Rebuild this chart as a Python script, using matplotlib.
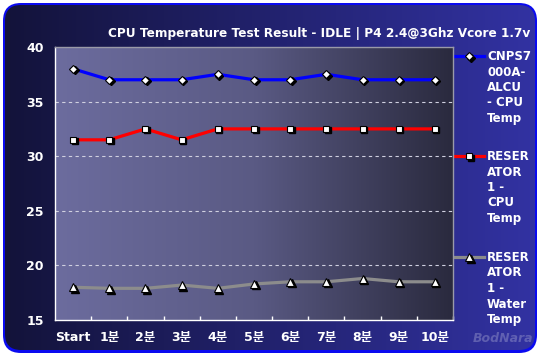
import matplotlib

matplotlib.use("Agg")

import matplotlib.pyplot as plt
import numpy as np
from matplotlib.colors import LinearSegmentedColormap
from matplotlib.patches import FancyBboxPatch
from matplotlib.lines import Line2D
from matplotlib.transforms import offset_copy


categories = ["Start", "1분", "2분", "3분", "4분", "5분", "6분", "7분", "8분", "9분", "10분"]
cnps_cpu = [38, 37, 37, 37, 37.5, 37, 37, 37.5, 37, 37, 37]
reserator_cpu = [31.5, 31.5, 32.5, 31.5, 32.5, 32.5, 32.5, 32.5, 32.5, 32.5, 32.5]
reserator_water = [18, 17.9, 17.9, 18.2, 17.9, 18.3, 18.5, 18.5, 18.8, 18.5, 18.5]
y_ticks = [15, 20, 25, 30, 35, 40]

legend_labels = [
    "CNPS7\n000A-\nALCU\n- CPU\nTemp",
    "RESER\nATOR\n1 -\nCPU\nTemp",
    "RESER\nATOR\n1 -\nWater\nTemp",
]
title = "CPU Temperature Test Result - IDLE | P4 2.4@3Ghz Vcore 1.7v"

plt.rcParams["font.family"] = ["DejaVu Sans", "Noto Sans CJK KR"]
plt.rcParams["font.weight"] = "bold"

W, H = 541, 356
fig = plt.figure(figsize=(W / 100, H / 100), dpi=100)
fig.patch.set_facecolor("white")

# background frame, drawn in pixel coordinates
bg = fig.add_axes([0, 0, 1, 1])
bg.set_xlim(0, W)
bg.set_ylim(H, 0)
bg.axis("off")

shadow = FancyBboxPatch((3, 3), 534, 350, boxstyle="round,pad=0,rounding_size=18",
                        facecolor="#0a0af0", edgecolor="none", zorder=0)
bg.add_patch(shadow)
outer_cmap = LinearSegmentedColormap.from_list("outer", ["#13133a", "#22226e", "#3232a2"])
grad = np.linspace(0, 1, 256).reshape(1, -1)
img = bg.imshow(grad, cmap=outer_cmap, extent=(5, 535, 350, 5), aspect="auto", zorder=1)
clip = FancyBboxPatch((5, 5), 530, 345, boxstyle="round,pad=0,rounding_size=16",
                      facecolor="none", edgecolor="none", transform=bg.transData)
img.set_clip_path(clip)

# main plot
ax = fig.add_axes([55 / W, 1 - 320 / H, 398 / W, 273 / H])
plot_cmap = LinearSegmentedColormap.from_list("plot", ["#6c6c9e", "#5a5a84", "#2a2a3e"])
ax.imshow(grad, cmap=plot_cmap, extent=(-0.5, 10.5, 15, 40), aspect="auto", zorder=0)

x = np.arange(len(categories))
shadow_tr = offset_copy(ax.transData, fig=fig, x=1.5, y=-1.5, units="dots")
series = [
    (cnps_cpu, "#0000ff", "D", 4.2),
    (reserator_cpu, "#ff0000", "s", 5),
    (reserator_water, "#8c8c8c", "^", 5.5),
]
for values, color, marker, ms in series:
    ax.plot(x, values, color=color, linewidth=2.3, zorder=2)
    ax.plot(x, values, linestyle="none", marker=marker, markersize=ms,
            color="black", transform=shadow_tr, zorder=3)
    ax.plot(x, values, linestyle="none", marker=marker, markersize=ms,
            markerfacecolor="white", markeredgecolor="black", markeredgewidth=0.8, zorder=4)

ax.set_xlim(-0.5, 10.5)
ax.set_ylim(15, 40)
ax.set_yticks(y_ticks)
for yv in y_ticks[1:-1]:
    ax.axhline(yv, color="#d0d0e0", linewidth=0.8, dashes=(3, 3), zorder=1)

ax.set_xticks(x + 0.5, minor=False)
ax.set_xticklabels([])
ax.set_xticks(x, minor=True)
ax.set_xticklabels(categories, minor=True)
ax.tick_params(axis="x", which="major", direction="in", length=3, color="white", width=1)
ax.tick_params(axis="x", which="minor", length=0, pad=8, labelcolor="white", labelsize=9)
ax.tick_params(axis="y", length=0, pad=8, labelcolor="white", labelsize=9)

ax.spines["left"].set_color("white")
ax.spines["bottom"].set_color("white")
ax.spines["top"].set_color("#9a9aa8")
ax.spines["right"].set_color("#9a9aa8")
for sp in ax.spines.values():
    sp.set_linewidth(1)

fig.text(530 / W, 1 - 33 / H, title, ha="right", va="center", color="white", fontsize=8.7)

# legend on the right
legend_y = [56, 156, 257]
for (values, color, marker, ms), label, ly in zip(series, legend_labels, legend_y):
    bg.add_line(Line2D([455, 484], [ly, ly], color=color, linewidth=2.3, zorder=3))
    bg.plot([470.5], [ly + 1.5], marker=marker, markersize=ms, color="black", zorder=4)
    bg.plot([469], [ly], marker=marker, markersize=ms, markerfacecolor="white",
            markeredgecolor="black", markeredgewidth=0.8, zorder=5)
    bg.text(487, ly - 6, label, ha="left", va="top", color="white", fontsize=8.5,
            linespacing=1.25, zorder=5)

bg.text(503, 339, "BodNara", ha="center", va="center", color="#9090c8", alpha=0.5,
        fontsize=9, style="italic", zorder=5)

fig.savefig("out.png", dpi=100)
